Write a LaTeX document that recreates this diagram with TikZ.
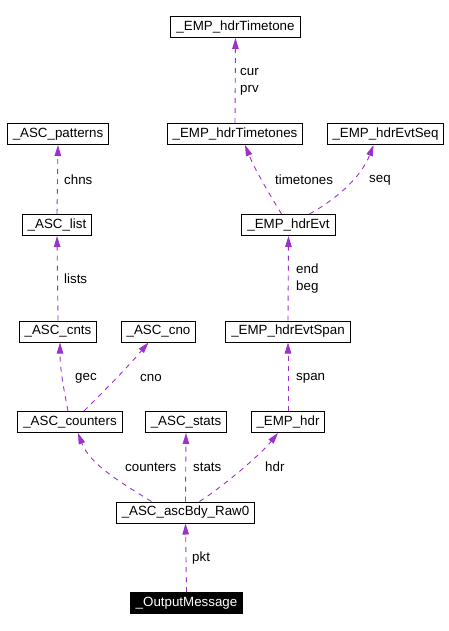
\documentclass[tikz,border=0pt]{standalone}
\usepackage{fontspec}
\setmainfont{Liberation Sans}
\usepackage{tikz}
\usetikzlibrary{arrows.meta, positioning}
\definecolor{UsePurple}{HTML}{9A32CD}
\tikzset{
  classbox/.style={rectangle, draw=black, fill=white, line width=1pt, inner xsep=5.5pt, inner ysep=0pt, minimum height=21pt, font=\fontsize{13.33}{16.7}\selectfont},
  rootbox/.style={classbox, fill=black, text=white},
  uselabel/.style={anchor=west, inner sep=0pt, align=left, font=\fontsize{13.33}{16.7}\selectfont},
  usearrow/.style={-{Triangle[length=11pt, width=6.5pt]}, line width=0.9pt, UsePurple, dash pattern=on 5pt off 5pt}
}
\begin{document}
\begin{tikzpicture}[x=1pt, y=-1pt]
  \useasboundingbox (0,0) rectangle (449,631);

  % classes
  \node[classbox] (timetone) at (235.5,27) {\_EMP\_hdrTimetone};
  \node[classbox] (patterns) at (58,134) {\_ASC\_patterns};
  \node[classbox] (timetones) at (235,134) {\_EMP\_hdrTimetones};
  \node[classbox] (evtseq) at (385.5,134) {\_EMP\_hdrEvtSeq};
  \node[classbox] (list) at (57,225) {\_ASC\_list};
  \node[classbox] (evt) at (288.5,225) {\_EMP\_hdrEvt};
  \node[classbox] (cnts) at (58,331.5) {\_ASC\_cnts};
  \node[classbox] (cno) at (158.5,331.5) {\_ASC\_cno};
  \node[classbox] (span) at (288,331.5) {\_EMP\_hdrEvtSpan};
  \node[classbox] (counters) at (70,422) {\_ASC\_counters};
  \node[classbox] (stats) at (186,422) {\_ASC\_stats};
  \node[classbox] (hdr) at (288,422) {\_EMP\_hdr};
  \node[classbox] (raw) at (185.5,512.5) {\_ASC\_ascBdy\_Raw0};
  \node[rootbox] (outmsg) at (186.5,603) {\_OutputMessage};

  % usage edges
  \draw[usearrow] (timetones.north) -- (timetone.south);
  \draw[usearrow] (list.north) -- (patterns.south);
  \draw[usearrow] ([xshift=-7pt]evt.north) .. controls (270,195) and (255,170) .. ([xshift=10pt]timetones.south);
  \draw[usearrow] ([xshift=21pt]evt.north) .. controls (340,197) and (362,175) .. ([xshift=-12pt]evtseq.south);
  \draw[usearrow] (cnts.north) -- (list.south);
  \draw[usearrow] (span.north) -- (evt.south);
  \draw[usearrow] ([xshift=-2pt]counters.north) .. controls (64,390) and (60,370) .. ([xshift=2pt]cnts.south);
  \draw[usearrow] ([xshift=14pt]counters.north) .. controls (105,390) and (125,370) .. ([xshift=-10pt]cno.south);
  \draw[usearrow] (hdr.north) -- (span.south);
  \draw[usearrow] ([xshift=-34pt]raw.north) .. controls (125,485) and (90,465) .. ([xshift=8pt]counters.south);
  \draw[usearrow] (raw.north) -- (stats.south);
  \draw[usearrow] ([xshift=14pt]raw.north) .. controls (225,485) and (260,455) .. ([xshift=-10pt]hdr.south);
  \draw[usearrow] (outmsg.north) -- (raw.south);

  % edge labels
  \node[uselabel] (lcur) at (240,81.5) {cur\\prv};
  \node[uselabel] (lchns) at (64,180) {chns};
  \node[uselabel] (ltimetones) at (275,180) {timetones};
  \node[uselabel] (lseq) at (369,180) {seq};
  \node[uselabel] (llists) at (64,279) {lists};
  \node[uselabel] (lend) at (296,278.5) {end\\beg};
  \node[uselabel] (lgec) at (75,378) {gec};
  \node[uselabel] (lcno) at (140,378) {cno};
  \node[uselabel] (lspan) at (296,378) {span};
  \node[uselabel] (lcounters) at (125,467) {counters};
  \node[uselabel] (lstats) at (193,467) {stats};
  \node[uselabel] (lhdr) at (265,467) {hdr};
  \node[uselabel] (lpkt) at (192,558) {pkt};
\end{tikzpicture}
\end{document}
